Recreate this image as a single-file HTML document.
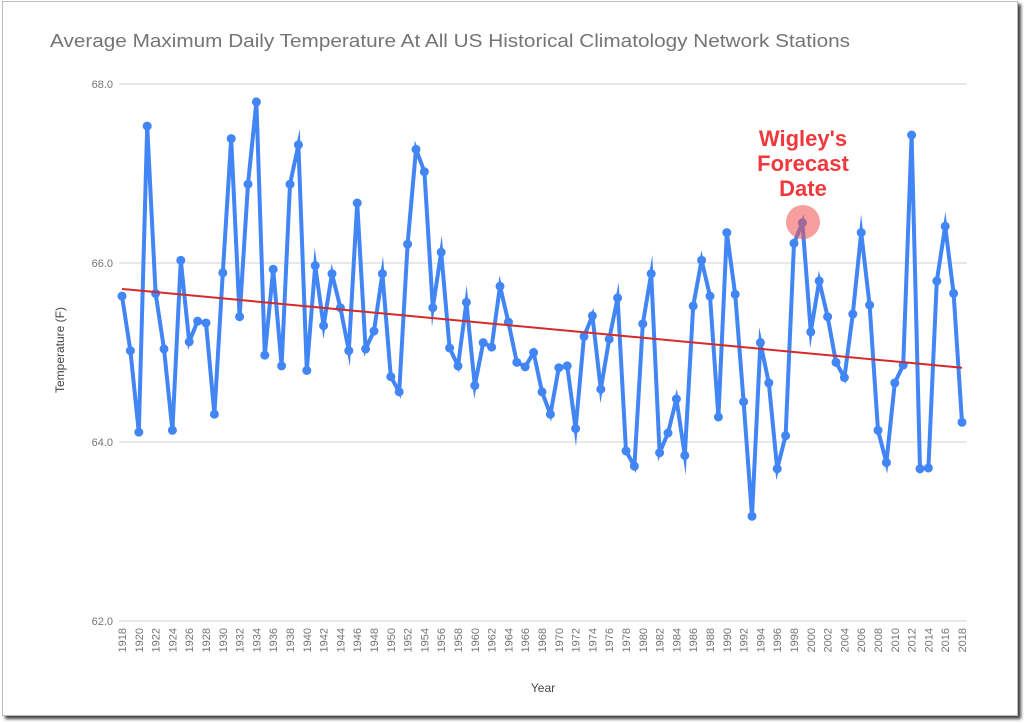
<!DOCTYPE html>
<html><head><meta charset="utf-8"><style>
html,body{margin:0;padding:0;background:#fff;}
body{width:1024px;height:723px;position:relative;overflow:hidden;font-family:"Liberation Sans",sans-serif;}
#card{position:absolute;left:2px;top:1px;width:1014px;height:713px;background:#fff;border:1px solid #bbb;box-shadow:3px 3px 3px #444;}
svg{position:absolute;left:0;top:0;}
</style></head><body>
<div id="card"></div>
<svg id="chart" width="1024" height="723">
<text x="50" y="47" font-size="18" fill="#757575" textLength="800" lengthAdjust="spacingAndGlyphs">Average Maximum Daily Temperature At All US Historical Climatology Network Stations</text>
<text transform="translate(64,350) rotate(-90)" text-anchor="middle" font-size="12" fill="#444">Temperature (F)</text>
<text x="543" y="692" text-anchor="middle" font-size="12" fill="#444">Year</text>
<g id="grid"></g><g id="ylabels"></g><g id="xlabels"></g><g id="series"></g>
<g>
<circle cx="803" cy="222" r="17" fill="#f05050" opacity="0.55"></circle>
<text x="803" y="146" text-anchor="middle" font-size="22" font-weight="bold" fill="#f0393c">Wigley's</text>
<text x="803" y="171" text-anchor="middle" font-size="22" font-weight="bold" fill="#f0393c">Forecast</text>
<text x="803" y="196" text-anchor="middle" font-size="22" font-weight="bold" fill="#f0393c">Date</text>
</g>
</svg>
<script>
const years = [];
for (let y = 1918; y <= 2018; y++) years.push(y);
const temps = [65.63,65.02,64.11,67.53,65.66,65.04,64.13,66.03,65.12,65.35,65.33,64.31,65.89,67.39,65.40,66.88,67.80,64.97,65.93,64.85,66.88,67.32,64.80,65.97,65.30,65.88,65.50,65.02,66.67,65.04,65.24,65.88,64.73,64.56,66.21,67.27,67.02,65.50,66.12,65.05,64.85,65.56,64.63,65.11,65.06,65.74,65.34,64.89,64.84,65.00,64.56,64.31,64.83,64.85,64.15,65.18,65.41,64.59,65.15,65.61,63.90,63.73,65.32,65.88,63.88,64.10,64.48,63.85,65.52,66.03,65.63,64.28,66.34,65.65,64.45,63.17,65.11,64.66,63.70,64.07,66.22,66.45,65.23,65.80,65.40,64.89,64.72,65.43,66.34,65.53,64.13,63.77,64.66,64.86,67.43,63.70,63.71,65.80,66.41,65.66,64.22];
const trendStart = 65.71;
const trendEnd = 64.83;
const yTicks = [62, 64, 66, 68];
const yTickLabels = ["62.0","64.0","66.0","68.0"];

const NS = "http://www.w3.org/2000/svg";
const x0 = 122, x1 = 962, yTop = 84, yBot = 621, vMin = 62, vMax = 68;
function sx(year){ return x0 + (year - years[0]) / (years[years.length-1] - years[0]) * (x1 - x0); }
function sy(v){ return yBot - (v - vMin) / (vMax - vMin) * (yBot - yTop); }
function mk(tag, attrs, parent){ const e = document.createElementNS(NS, tag); for (const k in attrs) e.setAttribute(k, attrs[k]); parent.appendChild(e); return e; }

const grid = document.getElementById('grid'), yl = document.getElementById('ylabels'), xl = document.getElementById('xlabels'), ser = document.getElementById('series');
yTicks.forEach((t, i) => {
  const l = mk('line', {x1: 119, x2: 967, y1: sy(t), y2: sy(t), stroke: '#d0d0d0', 'stroke-width': 1}, grid);
  
  
  const tx = mk('text', {x: 113, y: sy(t) + 4, 'text-anchor': 'end', 'font-size': 11, fill: '#757575'}, yl);
  tx.textContent = yTickLabels[i];
  
  
});
years.forEach(y => {
  if ((y - years[0]) % 2) return;
  const tx = mk('text', {transform: 'translate(' + (sx(y) + 4) + ',628) rotate(-90)', 'text-anchor': 'end', 'font-size': 11, fill: '#757575'}, xl);
  tx.textContent = y;
  
  
});
const pts = years.map((y, i) => sx(y).toFixed(1) + ',' + sy(temps[i]).toFixed(1)).join(' ');
const line = mk('polyline', {points: pts, fill: 'none', stroke: '#4285f4', 'stroke-width': 4, 'stroke-linejoin': 'miter', 'stroke-miterlimit': 10}, ser);


years.forEach((y, i) => {
  const c = mk('circle', {cx: sx(y), cy: sy(temps[i]), r: 4.5, fill: '#4285f4'}, ser);
  
  
});
const tr = mk('line', {x1: sx(years[0]), y1: sy(trendStart), x2: sx(years[years.length-1]), y2: sy(trendEnd), stroke: '#d42a2a', 'stroke-width': 2}, ser);


</script>
</body></html>
